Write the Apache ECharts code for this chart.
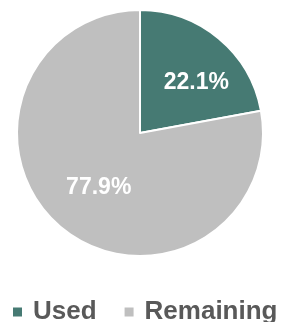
<!DOCTYPE html>
<html>
<head>
<meta charset="utf-8">
<script src="https://cdn.jsdelivr.net/npm/echarts@6/dist/echarts.min.js"></script>
<style>
  html, body { margin: 0; padding: 0; background: #fff; }
  #chart { width: 291px; height: 322px; }
</style>
</head>
<body>
<div id="chart"></div>
<script>
const categories = ["Used", "Remaining"];
const shares = [22.1, 77.9];
const colors = ["#467a73", "#bfbfbf"];
// nudges to match where the original labels sit
const labelOffsets = [[15, -1], [0, 5]];

const chart = echarts.init(document.getElementById("chart"));

chart.setOption({
  animation: false,
  color: colors,
  legend: {
    data: categories,
    left: 13,
    top: 299,
    padding: 0,
    icon: "rect",
    itemWidth: 9,
    itemHeight: 9,
    itemGap: 28,
    itemStyle: { borderWidth: 0 },
    textStyle: {
      fontFamily: "Liberation Sans, Arial, sans-serif",
      fontWeight: "bold",
      fontSize: 26,
      color: "#595959",
      padding: [0, 0, 0, 6],
    },
  },
  series: [
    {
      type: "pie",
      center: [140, 133],
      radius: 123,
      startAngle: 90,
      clockwise: true,
      itemStyle: { borderColor: "#fff", borderWidth: 2 },
      label: {
        position: "inside",
        formatter: (p) => `${p.value.toFixed(1)}%`,
        color: "#fff",
        fontFamily: "Liberation Sans, Arial, sans-serif",
        fontWeight: "bold",
        fontSize: 23,
      },
      labelLine: { show: false },
      data: categories.map((name, i) => ({
        name,
        value: shares[i],
        label: { offset: labelOffsets[i] },
      })),
    },
  ],
});
</script>
</body>
</html>
